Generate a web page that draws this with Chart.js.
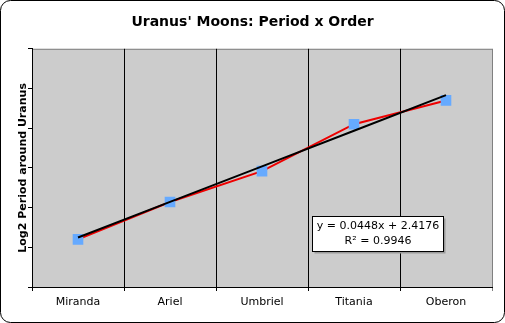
<!DOCTYPE html>
<html>
<head>
<meta charset="utf-8">
<script src="https://cdn.jsdelivr.net/npm/chart.js@4.4.1/dist/chart.umd.min.js"></script>
<style>
html,body{margin:0;padding:0;background:#fff;}
#wrap{width:505px;height:323px;position:relative;}
</style>
</head>
<body>
<div id="wrap"><canvas id="c" width="505" height="323"></canvas></div>
<script>
const categories = ['Miranda', 'Ariel', 'Umbriel', 'Titania', 'Oberon'];
const log2Period = [2.460, 2.507, 2.546, 2.605, 2.635];
const trendValues = [2.4624, 2.5072, 2.5520, 2.5968, 2.6416];
const equationLines = ['y = 0.0448x + 2.4176', 'R\u00B2 = 0.9946'];
const titleText = "Uranus' Moons: Period x Order";
const yTitle = 'Log2 Period around Uranus';

const FONT = "'DejaVu Sans', Verdana, sans-serif";

const framePlugin = {
  id: 'frame',
  beforeDraw(chart) {
    const {ctx, chartArea: a} = chart;
    ctx.save();
    ctx.fillStyle = '#fff';
    ctx.fillRect(0, 0, chart.width, chart.height);
    const r = 10, x = 0.5, y = 0.5, w = chart.width - 1, h = chart.height - 1;
    ctx.beginPath();
    ctx.moveTo(x + r, y);
    ctx.lineTo(x + w - r, y);
    ctx.arcTo(x + w, y, x + w, y + r, r);
    ctx.lineTo(x + w, y + h - r);
    ctx.arcTo(x + w, y + h, x + w - r, y + h, r);
    ctx.lineTo(x + r, y + h);
    ctx.arcTo(x, y + h, x, y + h - r, r);
    ctx.lineTo(x, y + r);
    ctx.arcTo(x, y, x + r, y, r);
    ctx.closePath();
    ctx.strokeStyle = '#000';
    ctx.lineWidth = 1;
    ctx.stroke();
    ctx.fillStyle = '#cccccc';
    ctx.fillRect(a.left, a.top, a.right - a.left, a.bottom - a.top);
    ctx.strokeStyle = '#808080';
    ctx.beginPath();
    ctx.moveTo(a.left, a.top + 0.5);
    ctx.lineTo(a.right + 0.5, a.top + 0.5);
    ctx.lineTo(a.right + 0.5, a.bottom);
    ctx.stroke();
    ctx.restore();
  },
  afterDraw(chart) {
    const {ctx, chartArea: a} = chart;
    ctx.save();
    const bx = Math.round(a.left + (a.right - a.left) * 0.609) + 0.5;
    const by = Math.round(a.top + (a.bottom - a.top) * 0.70) + 0.5;
    const bw = 131, bh = 35;
    ctx.fillStyle = '#9a9a9a';
    ctx.fillRect(bx + 2, by + 2, bw, bh);
    ctx.fillStyle = '#fff';
    ctx.fillRect(bx, by, bw, bh);
    ctx.strokeStyle = '#000';
    ctx.lineWidth = 1;
    ctx.strokeRect(bx, by, bw, bh);
    ctx.fillStyle = '#000';
    ctx.font = '11px ' + FONT;
    ctx.textAlign = 'center';
    ctx.textBaseline = 'middle';
    ctx.fillText(equationLines[0], bx + bw / 2, by + 10);
    ctx.fillText(equationLines[1], bx + bw / 2, by + 25);
    ctx.restore();
  }
};

new Chart(document.getElementById('c'), {
  type: 'line',
  data: {
    labels: categories,
    datasets: [
      {
        label: 'Linear trend',
        data: trendValues,
        borderColor: '#000',
        borderWidth: 2,
        pointRadius: 0,
        fill: false,
        tension: 0,
        order: 0
      },
      {
        label: 'Log2 Period',
        data: log2Period,
        borderColor: '#ee0000',
        borderWidth: 2,
        pointStyle: 'rect',
        pointRadius: 7.5,
        pointBackgroundColor: '#66aaff',
        pointBorderColor: '#66aaff',
        pointBorderWidth: 0,
        fill: false,
        tension: 0,
        order: 1
      }
    ]
  },
  options: {
    responsive: false,
    animation: false,
    devicePixelRatio: 1,
    layout: {padding: {left: 0, right: 0, top: 0, bottom: 0}},
    plugins: {
      legend: {display: false},
      tooltip: {enabled: false},
      title: {
        display: true,
        text: titleText,
        color: '#000',
        font: {family: FONT, size: 14, weight: 'bold'},
        padding: {top: 14, bottom: 18}
      }
    },
    scales: {
      x: {
        offset: true,
        grid: {
          offset: true,
          display: true,
          drawOnChartArea: true,
          drawTicks: true,
          tickLength: 4,
          color: (c) => c.type === 'tick' ? '#000' : '#808080',
          lineWidth: 1
        },
        border: {display: true, color: '#000', width: 1},
        ticks: {
          color: '#000',
          font: {family: FONT, size: 11},
          padding: 5,
          maxRotation: 0,
          autoSkip: false
        },
        afterFit(s) { s.height = 36; }
      },
      y: {
        min: 2.4,
        max: 2.7,
        ticks: {stepSize: 0.05, display: false},
        grid: {
          drawOnChartArea: false,
          drawTicks: true,
          tickLength: 4,
          color: '#000'
        },
        border: {display: true, color: '#000', width: 1},
        title: {
          display: true,
          text: yTitle,
          color: '#000',
          font: {family: FONT, size: 11, weight: 'bold'},
          padding: {top: 17, bottom: 0}
        },
        afterFit(s) { s.width = 32; }
      },
      yRight: {
        position: 'right',
        display: true,
        min: 2.4,
        max: 2.7,
        ticks: {display: false},
        grid: {display: false, drawTicks: false},
        border: {display: false},
        afterFit(s) { s.width = 13; }
      }
    }
  },
  plugins: [framePlugin]
});
</script>
</body>
</html>
